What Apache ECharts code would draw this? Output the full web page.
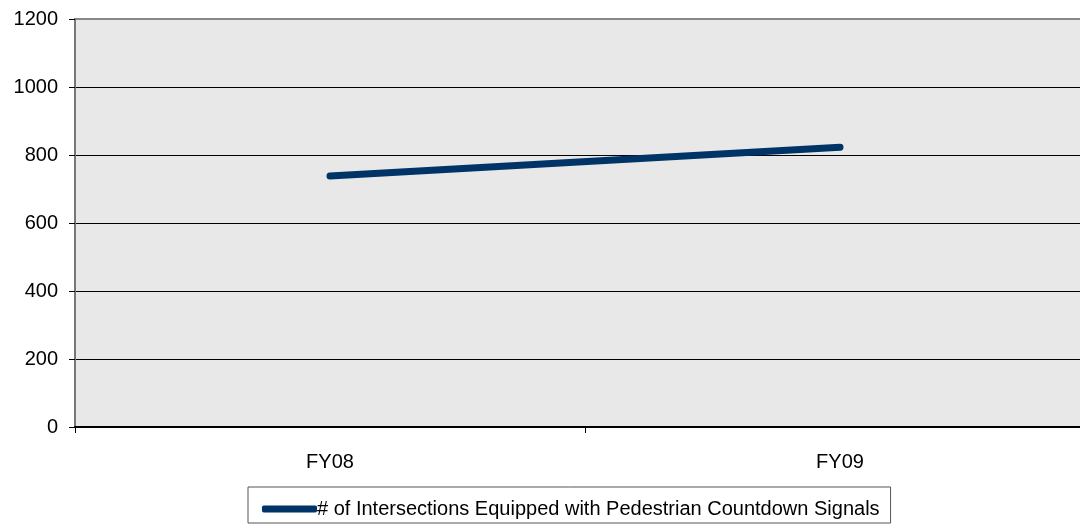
<!DOCTYPE html>
<html>
<head>
<meta charset="utf-8">
<script src="https://cdn.jsdelivr.net/npm/echarts@6/dist/echarts.min.js"></script>
<style>html,body{margin:0;padding:0;background:#fff;}#c{width:1080px;height:527px;}</style>
</head>
<body>
<div id="c"></div>
<script>
var categories = ['FY08', 'FY09'];
var seriesName = '# of Intersections Equipped with Pedestrian Countdown Signals';
var seriesValues = [738, 823];
var yTicks = [0, 200, 400, 600, 800, 1000, 1200];

var chart = echarts.init(document.getElementById('c'), null, {renderer: 'canvas'});
chart.setOption({
  animation: false,
  textStyle: {fontFamily: 'Liberation Sans, Arial, sans-serif'},
  grid: {
    left: 75, top: 19, bottom: 100, width: 1020,
    outerBoundsMode: 'none', containLabel: false,
    show: true, backgroundColor: '#e8e8e8', borderColor: '#888', borderWidth: 2
  },
  legend: {
    show: true,
    left: 248, top: 487,
    padding: [12, 11, 4, 14],
    borderColor: '#555', borderWidth: 1,
    icon: 'roundRect',
    itemWidth: 55, itemHeight: 7,
    textStyle: {fontSize: 20, color: '#000', fontFamily: 'Liberation Sans, Arial, sans-serif', padding: [0, 0, 0, -5]},
    data: [seriesName]
  },
  xAxis: {
    type: 'category',
    data: categories,
    boundaryGap: true,
    axisLine: {lineStyle: {color: '#000', width: 2}},
    axisTick: {show: true, length: 6, lineStyle: {color: '#000', width: 1}},
    axisLabel: {fontSize: 20, color: '#000', margin: 25},
    splitLine: {show: false}
  },
  yAxis: {
    type: 'value',
    min: yTicks[0], max: yTicks[yTicks.length - 1], interval: 200,
    axisLine: {show: true, lineStyle: {color: '#777', width: 2}},
    axisTick: {show: true, length: 6, lineStyle: {color: '#000'}},
    axisLabel: {fontSize: 20, color: '#000', margin: 17, formatter: function (v) { return String(v); }},
    splitLine: {show: true, showMaxLine: false, lineStyle: {color: '#000', width: 1}}
  },
  series: [{
    name: seriesName,
    type: 'line',
    data: seriesValues,
    symbol: 'none',
    lineStyle: {color: '#003366', width: 7, cap: 'round'},
    itemStyle: {color: '#003366'}
  }]
});
</script>
</body>
</html>
